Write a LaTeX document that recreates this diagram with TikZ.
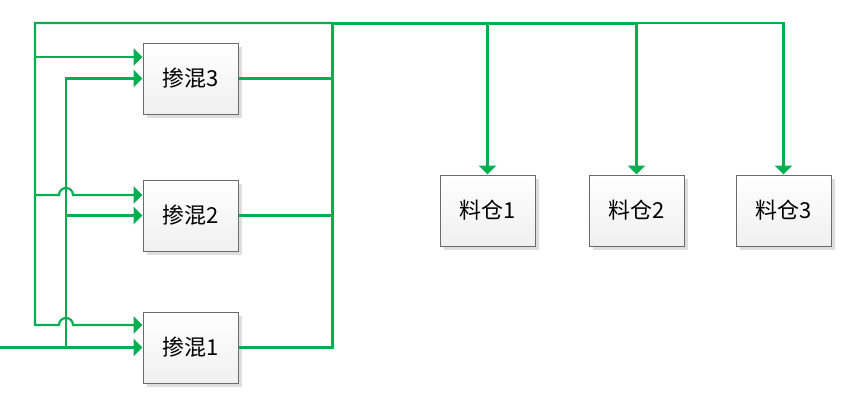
\documentclass[tikz,border=0pt]{standalone}
\usepackage{fontspec}
\newfontfamily\cjk{Noto Sans CJK SC}
\usetikzlibrary{arrows.meta,shadows}
\definecolor{flowColor}{HTML}{00B050}
\definecolor{boxLine}{HTML}{6B6B6B}
\tikzset{
	unit/.style={draw=boxLine, line width=1pt, top color=white, bottom color=black!6,
		minimum width=95pt, minimum height=71pt, inner sep=0pt,
		font=\cjk\fontsize{22}{26}\selectfont,
		drop shadow={shadow xshift=4pt, shadow yshift=-4pt, fill=black!13, opacity=1}},
	flow/.style={draw=flowColor, line width=2.2pt},
	main/.style={flow, line width=3pt},
	feed/.style={flow, -{Triangle[length=9pt,width=17pt]}}
}

\begin{document}
\begin{tikzpicture}[x=1pt, y=-1pt]
	\useasboundingbox (0,0) rectangle (853,400);
	
	% mixers
	\node[unit] (m3) at (190.5, 78.5) {掺混3};
	\node[unit] (m2) at (190.5, 215.5) {掺混2};
	\node[unit] (m1) at (190.5, 347.5) {掺混1};
	% silos
	\node[unit] (s1) at (487.5, 210.5) {料仓1};
	\node[unit] (s2) at (636.5, 210.5) {料仓2};
	\node[unit] (s3) at (783.5, 210.5) {料仓3};
	
	\coordinate (in) at (0, 347.5);
	\coordinate (j1) at (66, 347.5);
	\coordinate (c) at (332, 23);
	\coordinate (r0) at (35, 23);
	\coordinate (r3) at (35, 57);
	\coordinate (r2) at (35, 195);
	\coordinate (r1) at (35, 325);
	
	% feed
	\draw[main] (in) -- (j1);
	\draw[feed] (j1) -- (m1.west);
	\draw[feed] (j1) |- (m3.west);
	\draw[feed] (m2.west -| j1) -- (m2.west);
	
	% outputs
	\draw[flow] (m3.east) -- (m3.east -| c);
	\draw[flow] (m2.east) -- (m2.east -| c);
	\draw[main] (m1.east) -| (c);
	
	% return line
	\draw[feed] (c) -- (r0) -- (r1) -- ++(24,0) arc[start angle=180, end angle=0, radius=7pt] -- (m1.west |- r1);
	\draw[feed] (r2) -- ++(24,0) arc[start angle=180, end angle=0, radius=7pt] -- (m2.west |- r2);
	\draw[feed] (r3) -- (m3.west |- r3);
	
	% to silos
	\draw[main] (c) -- (s2.north |- c);
	\draw[feed] (s2.north |- c) -- (s3.north |- c) -- (s3.north);
	\draw[feed] (s1.north |- c) -- (s1.north);
	\draw[feed] (s2.north |- c) -- (s2.north);
\end{tikzpicture}
\end{document}
